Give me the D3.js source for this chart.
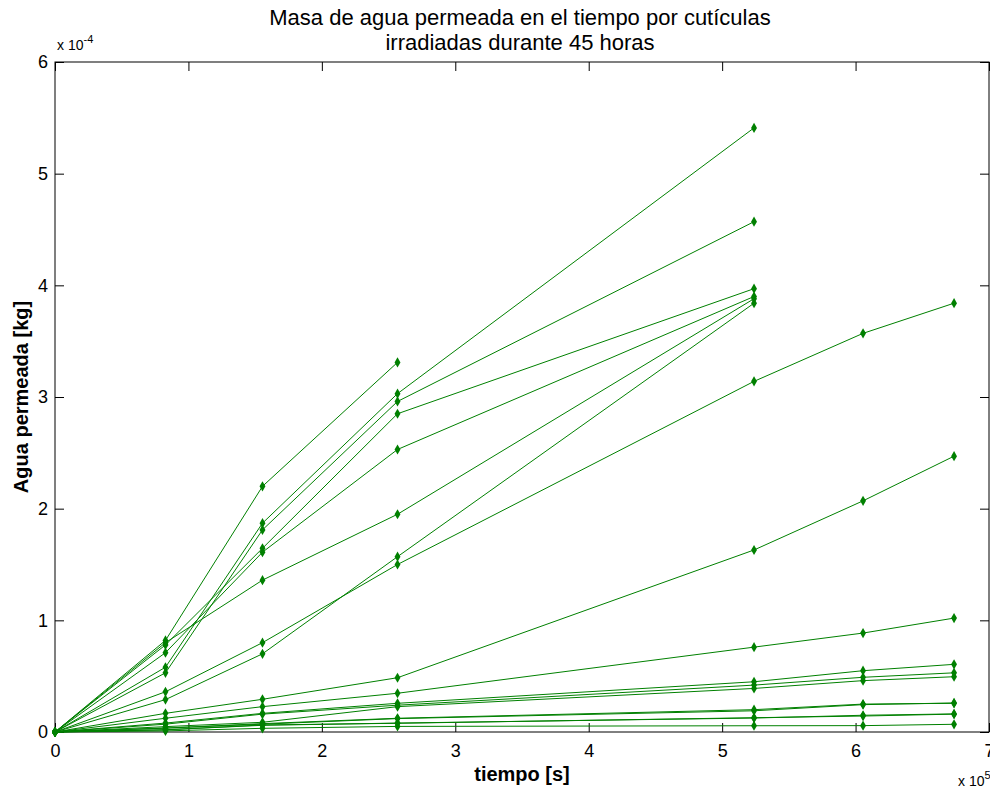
<!DOCTYPE html>
<html>
<head>
<meta charset="utf-8">
<script src="https://cdn.jsdelivr.net/npm/d3@7"></script>
<style>
  body { margin: 0; background: #fff; }
  svg { display: block; }
</style>
</head>
<body>
<svg id="chart"></svg>
<script>
// time of each weighing, seconds
const tiempo = [0, 82800, 155500, 256700, 523900, 605600, 673800];

// permeated water per cuticle, in units of 1e-4 kg
const c01 = [0, 0.82, 2.20, 3.31];
const c02 = [0, 0.58, 1.87, 3.03, 5.41];
const c03 = [0, 0.53, 1.81, 2.96, 4.57];
const c04 = [0, 0.78, 1.645, 2.85, 3.97];
const c05 = [0, 0.71, 1.61, 2.53, 3.90];
const c06 = [0, 0.80, 1.36, 1.95, 3.88];
const c07 = [0, 0.29, 0.70, 1.57, 3.84];
const c08 = [0, 0.36, 0.80, 1.50, 3.14, 3.57, 3.84];
const c09 = [0, 0.167, 0.293, 0.486, 1.63, 2.07, 2.47];
const c10 = [0, 0.123, 0.227, 0.347, 0.76, 0.886, 1.02];
const c11 = [0, 0.08, 0.167, 0.257, 0.45, 0.549, 0.606];
const c12 = [0, 0.07, 0.16, 0.24, 0.42, 0.49, 0.53];
const c13 = [0, 0.048, 0.087, 0.227, 0.39, 0.46, 0.495];
const c14 = [0, 0.035, 0.075, 0.123, 0.20, 0.25, 0.257];
const c15 = [0, 0.035, 0.07, 0.12, 0.19, 0.245, 0.26];
const c16 = [0, 0.02, 0.063, 0.078, 0.128, 0.143, 0.16];
const c17 = [0, 0.02, 0.06, 0.08, 0.125, 0.15, 0.162];
const c18 = [0, 0.01, 0.033, 0.05, 0.056, 0.057, 0.069];

const cuticulas = [c01, c02, c03, c04, c05, c06, c07, c08, c09,
                   c10, c11, c12, c13, c14, c15, c16, c17, c18];

const xTicks = [0, 1e5, 2e5, 3e5, 4e5, 5e5, 6e5, 7e5];
const yTicks = [0, 1, 2, 3, 4, 5, 6];

const width = 990, height = 790;
const lineColor = "#008000";
const plot = { left: 55, right: 989, top: 62, bottom: 732 };

const svg = d3.select("#chart")
  .attr("width", width)
  .attr("height", height)
  .style("font-family", "'Liberation Sans', Arial, sans-serif");

const x = d3.scaleLinear().domain([0, 7e5]).range([plot.left, plot.right]);
const y = d3.scaleLinear().domain([0, 6]).range([plot.bottom, plot.top]);

// axes, ticks inside like matlab
const tickLen = 9;
function styleAxis(g) {
  g.select(".domain").remove();
  g.selectAll(".tick line").attr("stroke", "#000");
  g.selectAll(".tick text").attr("fill", "#000").style("font-size", "18px");
}

svg.append("g")
  .attr("transform", `translate(0,${plot.bottom})`)
  .call(d3.axisBottom(x).tickValues(xTicks).tickSizeInner(-tickLen).tickSizeOuter(0)
    .tickPadding(12).tickFormat(d => d / 1e5))
  .call(styleAxis);

svg.append("g")
  .attr("transform", `translate(0,${plot.top})`)
  .call(d3.axisTop(x).tickValues(xTicks).tickSizeInner(-tickLen).tickSizeOuter(0).tickFormat(""))
  .call(styleAxis);

svg.append("g")
  .attr("transform", `translate(${plot.left},0)`)
  .call(d3.axisLeft(y).tickValues(yTicks).tickSizeInner(-tickLen).tickSizeOuter(0)
    .tickPadding(7).tickFormat(d3.format("d")))
  .call(styleAxis);

svg.append("g")
  .attr("transform", `translate(${plot.right},0)`)
  .call(d3.axisRight(y).tickValues(yTicks).tickSizeInner(-tickLen).tickSizeOuter(0).tickFormat(""))
  .call(styleAxis);

svg.append("rect")
  .attr("x", plot.left).attr("y", plot.top)
  .attr("width", plot.right - plot.left).attr("height", plot.bottom - plot.top)
  .attr("fill", "none").attr("stroke", "#000").attr("stroke-width", 1);

// lines + markers
const line = d3.line()
  .x((d, i) => x(tiempo[i]))
  .y(d => y(d));

const series = svg.append("g");
cuticulas.forEach(vals => {
  series.append("path")
    .attr("d", line(vals))
    .attr("fill", "none")
    .attr("stroke", lineColor)
    .attr("stroke-width", 1);
  series.selectAll(null)
    .data(vals)
    .enter()
    .append("path")
    .attr("d", d3.symbol().type(d3.symbolDiamond).size(30))
    .attr("transform", (d, i) => `translate(${x(tiempo[i])},${y(d)})`)
    .attr("fill", lineColor);
});

// title
const title = svg.append("text")
  .attr("x", 520).attr("text-anchor", "middle")
  .style("font-size", "22px");
title.append("tspan").attr("x", 520).attr("y", 25)
  .text("Masa de agua permeada en el tiempo por cutículas");
title.append("tspan").attr("x", 520).attr("y", 50)
  .text("irradiadas durante 45 horas");

// axis labels
svg.append("text")
  .attr("x", x(3.5e5)).attr("y", 781)
  .attr("text-anchor", "middle")
  .style("font-size", "20px").style("font-weight", "bold")
  .text("tiempo [s]");

svg.append("text")
  .attr("transform", `translate(28,${(plot.top + plot.bottom) / 2}) rotate(-90)`)
  .attr("text-anchor", "middle")
  .style("font-size", "20px").style("font-weight", "bold")
  .text("Agua permeada [kg]");

// exponent multipliers
const yMult = svg.append("text").attr("x", 57).attr("y", 50).style("font-size", "14px");
yMult.append("tspan").text("x 10");
yMult.append("tspan").attr("dy", -7).style("font-size", "11px").text("-4");

const xMult = svg.append("text").attr("x", 958).attr("y", 786).style("font-size", "14px");
xMult.append("tspan").text("x 10");
xMult.append("tspan").attr("dy", -7).style("font-size", "11px").text("5");
</script>
</body>
</html>
